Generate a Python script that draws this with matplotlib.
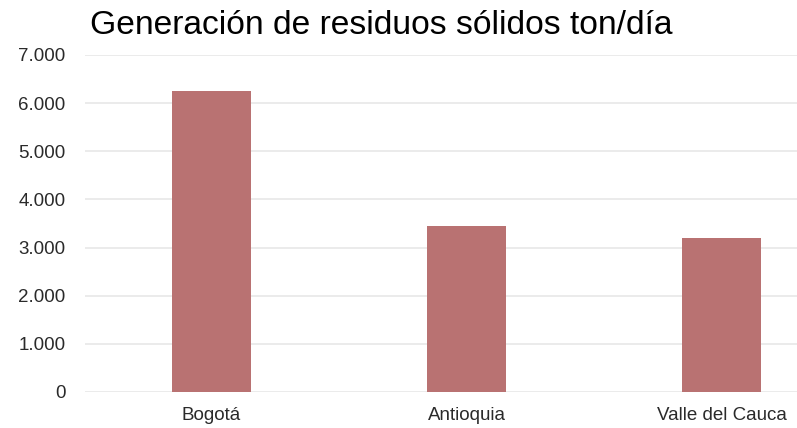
import matplotlib.pyplot as plt
from matplotlib.ticker import FuncFormatter

# data
categorias = ["Bogotá", "Antioquia", "Valle del Cauca"]
toneladas = [6260, 3450, 3200]
yticks = [0, 1000, 2000, 3000, 4000, 5000, 6000, 7000]

plt.rcParams['font.family'] = ['Liberation Sans', 'DejaVu Sans']

fig = plt.figure(figsize=(7.97, 4.28), dpi=100)
ax = fig.add_axes([85 / 797, 36 / 428, 1 - 85 / 797, (392 - 55) / 428])

x = range(len(categorias))
ax.bar(x, toneladas, width=0.31, color='#b97272', zorder=3)

ax.set_ylim(0, 7000)
ax.set_xlim(-0.496, 2.296)
ax.set_yticks(yticks)
ax.yaxis.set_major_formatter(FuncFormatter(lambda v, p: f"{int(v):,}".replace(",", ".")))
ax.set_xticks(list(x))
ax.set_xticklabels(categorias)

ax.grid(axis='y', color='#e8e8e8', linewidth=1.2, zorder=0)
for s in ax.spines.values():
    s.set_visible(False)
ax.tick_params(axis='both', length=0, labelsize=13.5, colors='#2a2a2a')
ax.tick_params(axis='y', pad=14)
ax.tick_params(axis='x', pad=11)

fig.text(90 / 797, 1 - 34 / 428, "Generación de residuos sólidos ton/día",
         fontsize=24.2, color='#000000', va='baseline', ha='left')

fig.savefig("out.png", dpi=100)
